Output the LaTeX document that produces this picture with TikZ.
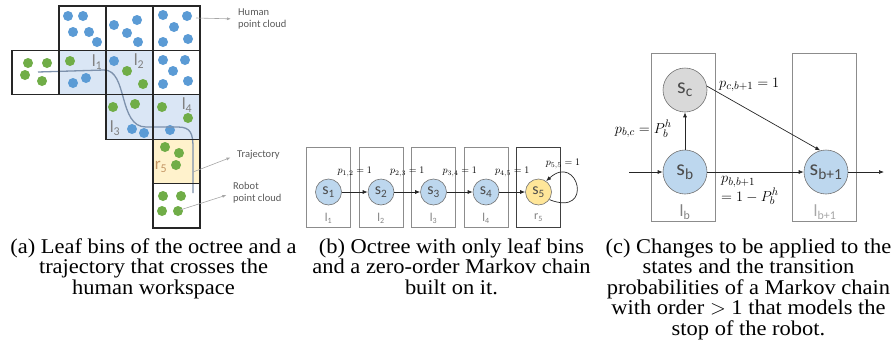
\documentclass[tikz,border=0pt]{standalone}
\usepackage{fontspec}
\setmainfont{Liberation Serif}
\newfontfamily\calib{Carlito}
\newfontfamily\capfont[FakeStretch=1.07]{Liberation Serif}
\usetikzlibrary{arrows.meta}

\definecolor{dotblue}{RGB}{91,155,213}
\definecolor{dotgreen}{RGB}{112,173,71}
\definecolor{binblue}{RGB}{218,230,245}
\definecolor{binyellow}{RGB}{255,242,204}
\definecolor{trajcol}{RGB}{125,145,172}
\definecolor{stateblue}{RGB}{189,215,238}
\definecolor{stategray}{RGB}{217,217,217}
\definecolor{stateyellow}{RGB}{255,230,153}
\definecolor{labgray}{RGB}{128,128,128}
\definecolor{rlab}{RGB}{196,150,100}

\begin{document}
\begin{tikzpicture}[x=1pt,y=-1pt,
  bin/.style={draw=black!85,line width=1.3pt},
  note/.style={font=\calib\fontsize{10.5}{12}\selectfont,text=black!65,align=left,inner sep=0pt},
  notearr/.style={draw=black!35,line width=0.6pt,shorten >=7pt,-{Latex[length=4pt,width=3pt]}},
  binlab/.style={font=\calib\fontsize{17}{17}\selectfont,text=labgray,inner sep=0pt},
  bbox/.style={draw=black!45,line width=0.8pt,minimum width=44pt,minimum height=80pt,inner sep=0pt},
  st/.style={circle,draw=black!55,line width=0.6pt,fill=stateblue,minimum size=26pt,inner sep=0pt,
    font=\calib\fontsize{16}{16}\selectfont,text=black!70},
  bigst/.style={st,minimum size=44pt,font=\calib\fontsize{22}{22}\selectfont},
  blab/.style={font=\calib\fontsize{12}{12}\selectfont,text=labgray,inner sep=0pt},
  plab/.style={font=\fontsize{10}{12}\selectfont,inner sep=0pt},
  clab/.style={font=\fontsize{15}{15}\selectfont,inner sep=0pt},
  cbox/.style={draw=black!45,line width=0.8pt,minimum width=64pt,minimum height=168pt,inner sep=0pt},
  arr/.style={draw=black!85,line width=0.7pt,-{Latex[length=5pt,width=4pt]}},
  captext/.style={font=\capfont\fontsize{21}{20.5}\selectfont,align=center,anchor=north,inner sep=0pt}]
  \useasboundingbox (0,0) rectangle (894,349);

  % Leaf bins, filled first
  \foreach \x/\y/\c in {59/6/white,106/6/white,153/6/white,
      12/50.4/white,59/50.4/binblue,106/50.4/binblue,153/50.4/white,
      106/94.8/binblue,153/94.8/binblue,153/139.2/binyellow,153/183.6/white}
    \fill[\c] (\x,\y) rectangle +(47,44.4);

  % Human point cloud
  \foreach \x/\y in {68/16,83/16,73/32,89/32,97/42,
      114/25,137/20,127/33,138/42,
      163/15,187/16,174/27,163/42,188/39,
      163/60,185/60,173/71,163/84,188/81,
      86/78,73/83,114/61,132/129,144/133,170/130}
    \fill[dotblue] (\x,\y) circle (5);

  % Robot point cloud
  \foreach \x/\y in {28/63,47/63,25/75,42/81,70/61,127/71,143/84,
      113/107,135/104,162/107,188/118,165/147,179/153,176/165,
      163/196,181/196,162/211,178/211}
    \fill[dotgreen] (\x,\y) circle (5);

  % Trajectory
  \draw[trajcol,line width=1.3pt] (38,72) -- (104,70)
    .. controls (128,70) and (118,127) .. (146,127) -- (178,127)
    .. controls (191,127) and (193,134) .. (193,148) -- (193,193);

  % Bin borders
  \foreach \x/\y in {59/6,106/6,153/6,12/50.4,59/50.4,106/50.4,153/50.4,
      106/94.8,153/94.8,153/139.2,153/183.6}
    \draw[bin] (\x,\y) rectangle +(47,44.4);

  % Bin labels
  \node[binlab] (l1) at (97,62) {l\textsubscript{1}};
  \node[binlab] (l2) at (139,61) {l\textsubscript{2}};
  \node[binlab] (l3) at (115,128) {l\textsubscript{3}};
  \node[binlab] (l4) at (187,105) {l\textsubscript{4}};
  \node[binlab,text=rlab] (r5) at (161,167) {r\textsubscript{5}};

  % Callouts
  \coordinate (humsrc) at (196,18);
  \node[note,anchor=west] (hum) at (238,19) {Human\\point cloud};
  \draw[notearr] (humsrc) -- (hum.west);
  \coordinate (trsrc) at (193,172);
  \node[note,anchor=west] (traj) at (237,155) {Trajectory};
  \draw[notearr] (trsrc) -- (traj.west);
  \coordinate (rbsrc) at (180,210);
  \node[note,anchor=west] (rob) at (233,193) {Robot\\point cloud};
  \draw[notearr] (rbsrc) -- (rob.west);

  % Zero-order chain on the leaf bins
  \foreach \i in {1,...,4}{
    \node[bbox] (box\i) at ({328.5+52.5*(\i-1)},187) {};
    \node[st] (s\i) at ({328.5+52.5*(\i-1)},192) {s\textsubscript{\i}};
    \node[blab] (bl\i) at ({328.5+52.5*(\i-1)},218) {l\textsubscript{\i}};
  }
  \node[bbox,draw=black!75,line width=1pt] (box5) at (538.5,187) {};
  \node[st,fill=stateyellow] (s5) at (538.5,192) {s\textsubscript{5}};
  \node[blab] (bl5) at (538.5,218) {r\textsubscript{5}};
  \foreach \i/\j in {1/2,2/3,3/4,4/5}
    \draw[arr] (s\i) -- node[plab,above=15pt] (p\i) {$p_{\i,\j}=1$} (s\j);
  \draw[arr] (s5.-35) .. controls +(45,18) and +(32,-29) .. (s5.55);
  \node[plab] (p5) at (563,164) {$p_{5,5}=1$};

  % Stop state of a higher-order chain
  \node[cbox] (lbox) at (683.5,137) {};
  \node[cbox] (lbox1) at (824,137) {};
  \node[bigst,fill=stategray] (sc) at (685,90) {s\textsubscript{c}};
  \node[bigst] (sb) at (685,172) {s\textsubscript{b}};
  \node[bigst] (sb1) at (826,172) {s\textsubscript{b+1}};
  \coordinate (cin) at (629,172);
  \coordinate (cout) at (884,172);
  \draw[arr] (cin) -- (sb);
  \draw[arr] (sb) -- (sb1);
  \draw[arr] (sb1) -- (cout);
  \draw[arr] (sb) -- (sc);
  \draw[arr] (sc.10) -- (sb1.105);
  \node[clab,anchor=west] (pcb) at (719,85) {$p_{c,b+1}=1$};
  \node[clab,anchor=east] (pbc) at (672,129) {$p_{b,c}=P_b^h$};
  \node[clab,anchor=north west,align=left,font=\fontsize{15}{15}\selectfont] (pbb) at (721,176)
    {$p_{b,b+1}$\\$=1-P_b^h$};
  \node[binlab] (lb) at (685,212) {l\textsubscript{b}};
  \node[binlab,text=black!35] (lb1) at (825,212) {l\textsubscript{b+1}};

  % Captions
  \node[captext] (capa) at (153.5,238.5) {(a) Leaf bins of the octree and a\\trajectory that crosses the\\human workspace};
  \node[captext] (capb) at (451.5,238.5) {(b) Octree with only leaf bins\\and a zero-order Markov chain\\built on it.};
  \node[captext] (capc) at (748.5,238.5) {(c) Changes to be applied to the\\states and the transition\\probabilities of a Markov chain\\with order $>$ 1 that models the\\stop of the robot.};
\end{tikzpicture}
\end{document}
